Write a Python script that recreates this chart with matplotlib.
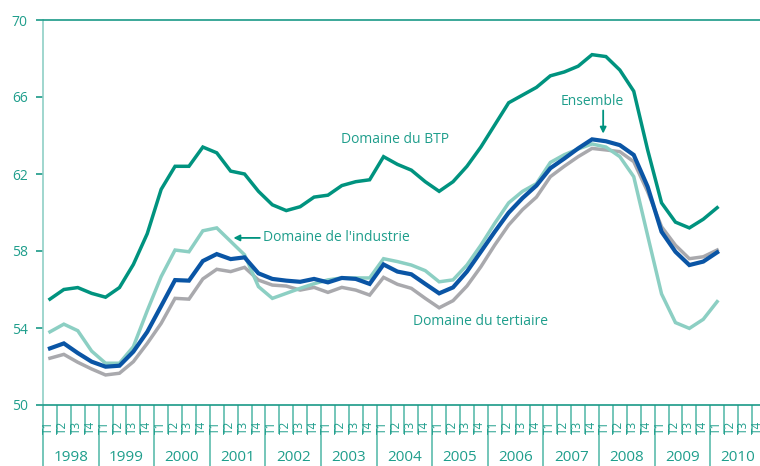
import numpy as np
import matplotlib.pyplot as plt
from matplotlib.ticker import FixedLocator

plt.rcParams['font.family'] = ['Open Sans', 'DejaVu Sans']

# trimestres de 1998 T1 a 2010 T1
annees = [str(a) for a in range(1998, 2011)]
trimestres = ['T1', 'T2', 'T3', 'T4']

btp = [55.5, 56.0, 56.1, 55.8, 55.6, 56.1, 57.3, 58.9,
       61.2, 62.4, 62.4, 63.4, 63.1, 62.15, 62.0, 61.1,
       60.4, 60.1, 60.3, 60.8, 60.9, 61.4, 61.6, 61.7,
       62.9, 62.5, 62.2, 61.6, 61.1, 61.6, 62.4, 63.4,
       64.55, 65.7, 66.1, 66.5, 67.1, 67.3, 67.6, 68.2,
       68.1, 67.4, 66.3, 63.25, 60.5, 59.5, 59.2, 59.65,
       60.25]
industrie = [53.8, 54.2, 53.86, 52.8, 52.17, 52.17, 53.03, 54.9,
             56.67, 58.05, 57.96, 59.05, 59.2, 58.5, 57.8, 56.15,
             55.54, 55.8, 56.06, 56.3, 56.5, 56.6, 56.6, 56.6,
             57.6, 57.45, 57.27, 56.98, 56.4, 56.5, 57.27, 58.3,
             59.44, 60.5, 61.1, 61.5, 62.6, 63.0, 63.3, 63.56,
             63.4, 62.9, 61.86, 58.8, 55.77, 54.28, 53.98, 54.45,
             55.37]
ensemble = [52.94, 53.2, 52.7, 52.25, 51.99, 52.04, 52.77, 53.8,
            55.14, 56.49, 56.46, 57.48, 57.84, 57.58, 57.67, 56.84,
            56.55, 56.46, 56.4, 56.55, 56.37, 56.6, 56.55, 56.29,
            57.3, 56.93, 56.79, 56.29, 55.8, 56.11, 56.93, 57.96,
            59.0, 59.99, 60.75, 61.4, 62.3, 62.8, 63.33, 63.8,
            63.7, 63.5, 62.99, 61.34, 59.0, 57.96, 57.27, 57.45,
            57.93]
tertiaire = [52.43, 52.63, 52.22, 51.87, 51.56, 51.65, 52.25, 53.2,
             54.24, 55.54, 55.5, 56.55, 57.05, 56.93, 57.15, 56.49,
             56.23, 56.18, 55.97, 56.11, 55.85, 56.11, 55.97, 55.71,
             56.63, 56.27, 56.06, 55.54, 55.05, 55.42, 56.18, 57.18,
             58.31, 59.35, 60.15, 60.8, 61.86, 62.4, 62.9, 63.33,
             63.25, 63.16, 62.64, 61.08, 59.26, 58.3, 57.6, 57.7,
             58.05]

teal = '#00937f'
txt = '#1f9e8c'
axcol = '#1a9987'
tickcol = '#5cbcad'

x = np.arange(len(btp)) + 0.5

fig = plt.figure(figsize=(7.6, 4.66), dpi=100)
ax = fig.add_axes([43/760, 61/466, 717/760, 385/466])

ax.plot(x, tertiaire, color='#a9a9ad', lw=2.5, solid_joinstyle='miter')
ax.plot(x, industrie, color='#8ccfc3', lw=2.5, solid_joinstyle='miter')
ax.plot(x, btp, color=teal, lw=2.5, solid_joinstyle='miter')
ax.plot(x, ensemble, color='#0a55a5', lw=3.0, solid_joinstyle='miter')

ax.set_xlim(0, 717/13.9)
ax.set_ylim(50, 70)
ax.set_yticks([50, 54, 58, 62, 66, 70])
ax.tick_params(axis='y', colors=axcol, labelcolor=txt, length=5, width=1.2,
               pad=6, labelsize=10)
ax.spines['right'].set_visible(False)
for s in ['left', 'top', 'bottom']:
    ax.spines[s].set_color(axcol)
    ax.spines[s].set_linewidth(1.2)
ax.spines['left'].set_color('#8fd0c6')

# graduations : trimestres et annees
nq = 4 * len(annees)
ax.xaxis.set_major_locator(FixedLocator(np.arange(0, nq + 1, 4)))
ax.xaxis.set_minor_locator(FixedLocator(np.arange(0, nq + 1, 1)))
ax.set_xticklabels([])
ax.tick_params(axis='x', which='major', length=44, width=1.2, color=tickcol,
               direction='out')
ax.tick_params(axis='x', which='minor', length=21, width=1.2, color=tickcol,
               direction='out')

tr = ax.get_xaxis_transform()
for k in range(nq):
    ax.text(k + 0.42, -0.057, trimestres[k % 4], transform=tr, rotation=90,
            ha='center', va='center', fontsize=8.5, color=txt, clip_on=False)
for k, a in enumerate(annees):
    ax.text(4 * k + 2, -0.137, a, transform=tr, ha='center', va='center',
            fontsize=11, color=txt, clip_on=False)

# etiquettes des courbes
ax.text(25.3, 63.8, 'Domaine du BTP', ha='center', va='center',
        fontsize=10, color=txt)
ax.text(15.8, 58.68, "Domaine de l'industrie", ha='left', va='center',
        fontsize=10, color=txt)
ax.annotate('', xy=(13.7, 58.68), xytext=(15.6, 58.68),
            arrowprops=dict(arrowstyle='-|>', color=teal, lw=1.3,
                            mutation_scale=9, shrinkA=0, shrinkB=0))
ax.text(26.6, 54.35, 'Domaine du tertiaire', ha='left', va='center',
        fontsize=10, color=txt)
ax.text(39.5, 65.75, 'Ensemble', ha='center', va='center',
        fontsize=10, color=txt)
ax.annotate('', xy=(40.3, 64.1), xytext=(40.3, 65.3),
            arrowprops=dict(arrowstyle='-|>', color=teal, lw=1.3,
                            mutation_scale=9, shrinkA=0, shrinkB=0))

fig.savefig('out.png', dpi=100)
